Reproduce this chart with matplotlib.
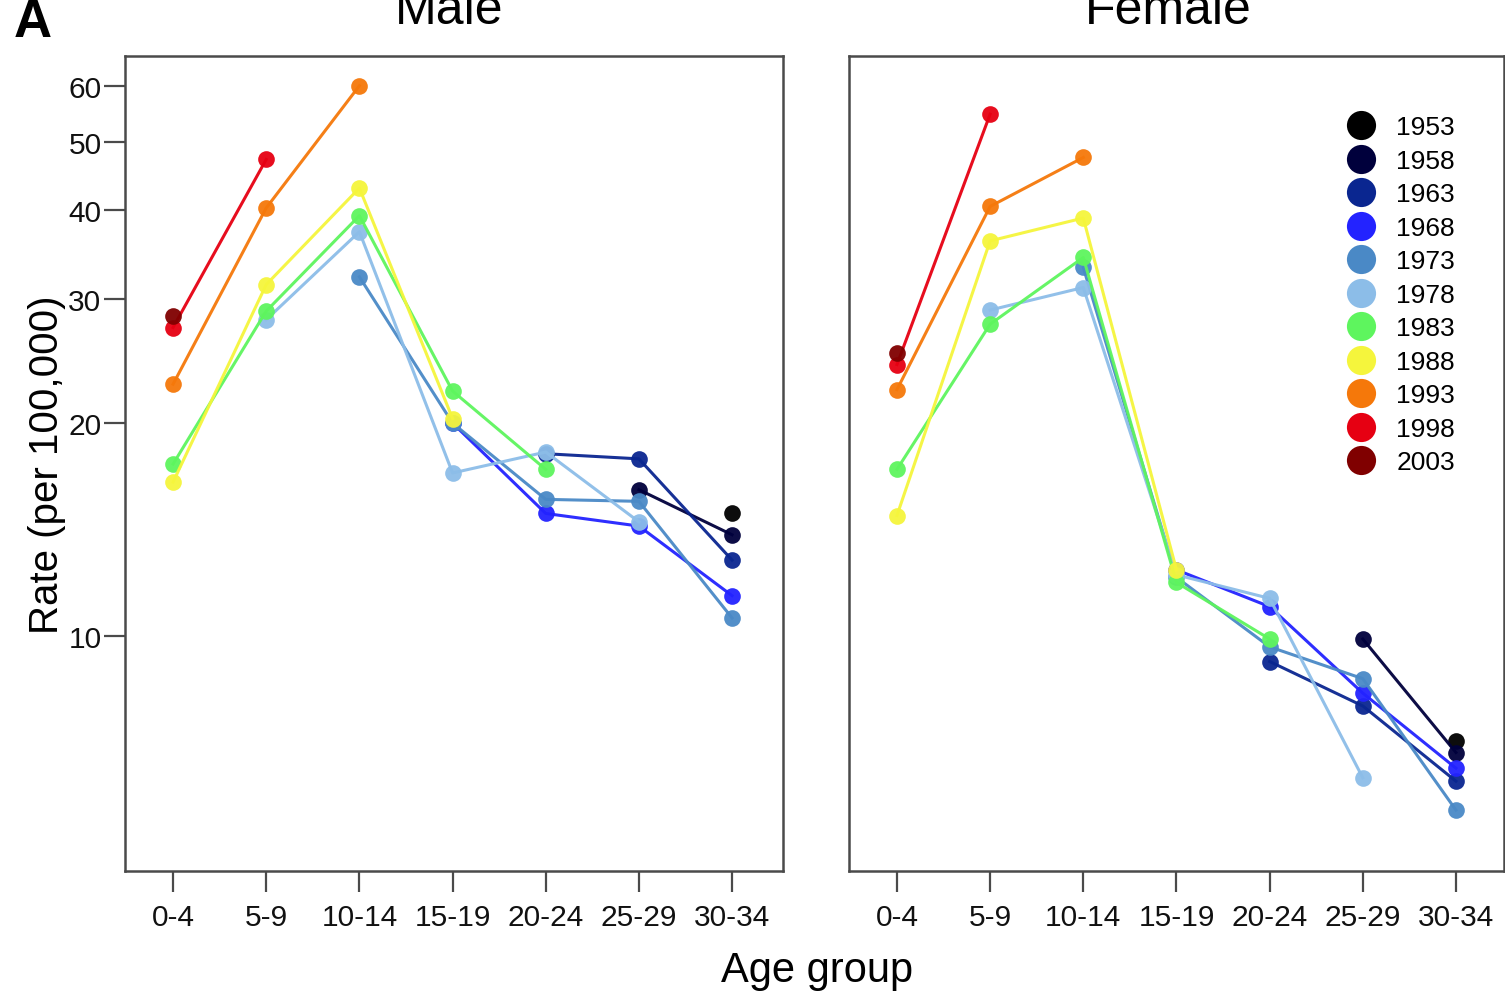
import numpy as np
import matplotlib
matplotlib.use("Agg")
import matplotlib.pyplot as plt
from matplotlib.lines import Line2D

plt.rcParams['font.family'] = ['Liberation Sans', 'DejaVu Sans']

nan = np.nan

age_groups = ["0-4", "5-9", "10-14", "15-19", "20-24", "25-29", "30-34"]
cohorts = ["1953", "1958", "1963", "1968", "1973", "1978",
           "1983", "1988", "1993", "1998", "2003"]
colors = ["#000000", "#00003c", "#0a2690", "#2323ff", "#4a89c6", "#8cbde8",
          "#5ef55e", "#f5f53c", "#f5780a", "#e60012", "#800000"]

# rate per 100,000 by birth cohort, one value per age group
male = [
    [nan, nan, nan, nan, nan, nan, 14.9],
    [nan, nan, nan, nan, nan, 16.1, 13.9],
    [nan, nan, nan, nan, 18.1, 17.8, 12.8],
    [nan, nan, nan, 20.0, 14.9, 14.3, 11.4],
    [nan, nan, 32.2, 20.0, 15.6, 15.5, 10.6],
    [nan, 28.0, 37.3, 17.0, 18.2, 14.5, nan],
    [17.5, 28.8, 39.3, 22.2, 17.2, nan, nan],
    [16.5, 31.4, 43.0, 20.3, nan, nan, nan],
    [22.7, 40.3, 60.0, nan, nan, nan, nan],
    [27.3, 47.2, nan, nan, nan, nan, nan],
    [28.3, nan, nan, nan, nan, nan, nan],
]

female = [
    [nan, nan, nan, nan, nan, nan, 7.1],
    [nan, nan, nan, nan, nan, 9.9, 6.84],
    [nan, nan, nan, nan, 9.2, 7.96, 6.23],
    [nan, nan, nan, 12.4, 11.0, 8.3, 6.5],
    [nan, nan, 33.2, 12.1, 9.65, 8.7, 5.67],
    [nan, 28.9, 31.1, 12.2, 11.3, 6.3, nan],
    [17.2, 27.6, 34.3, 11.9, 9.9, nan, nan],
    [14.8, 36.2, 39.0, 12.4, nan, nan, nan],
    [22.3, 40.5, 47.5, nan, nan, nan, nan],
    [24.2, 54.7, nan, nan, nan, nan, nan],
    [25.1, nan, nan, nan, nan, nan, nan],
]

y_ticks = [10, 20, 30, 40, 50, 60]

fig = plt.figure(figsize=(15.05, 9.95), dpi=100)
ax_m = fig.add_axes([0.0831, 0.1236, 0.4372, 0.8191])
ax_f = fig.add_axes([0.5641, 0.1236, 0.4352, 0.8191])

spine_col = "#4a4a4a"
x = np.arange(len(age_groups))

for ax, data in [(ax_m, male), (ax_f, female)]:
    for vals, col in zip(data, colors):
        v = np.array(vals, dtype=float)
        ok = ~np.isnan(v)
        ax.plot(x[ok], v[ok], color=col, lw=2.2, marker='o', ms=12,
                mec=col, mew=0, alpha=0.95)
    ax.set_yscale('log')
    ax.set_ylim(4.65, 66.1)
    ax.set_xticks(x)
    ax.set_xticklabels(age_groups, fontsize=21.5)
    ax.minorticks_off()
    for s in ax.spines.values():
        s.set_color(spine_col)
        s.set_linewidth(1.8)
    ax.tick_params(axis='x', length=15, width=1.6, color=spine_col,
                   pad=8, labelcolor="#111111")

ax_m.set_xlim(-0.515, 6.547)
ax_f.set_xlim(-0.515, 6.515)

ax_m.set_yticks(y_ticks)
ax_m.set_yticklabels([str(t) for t in y_ticks], fontsize=21.5)
ax_m.tick_params(axis='y', which='both', length=15, width=1.6,
                 color=spine_col, pad=2, labelcolor="#111111")
ax_m.set_ylabel("Rate (per 100,000)", fontsize=29, labelpad=2)

ax_f.set_yticks([])
ax_f.tick_params(axis='y', which='both', length=0)

fig.text(0.543, 0.013, "Age group", fontsize=30, ha='center', va='baseline')

# panel titles, cut off by the top edge as in the original
fig.text(0.2985, 0.976, "Male", fontsize=36, ha='center', va='baseline')
fig.text(0.776, 0.976, "Female", fontsize=36, ha='center', va='baseline')
fig.text(0.009, 0.963, "A", fontsize=38, fontweight='bold', ha='left',
         va='baseline')

handles = [Line2D([], [], ls='none', marker='o', ms=21, color=c, mew=0)
           for c in colors]
ax_f.legend(handles, cohorts, loc='upper left', frameon=False,
            bbox_to_anchor=(0.745, 0.94), fontsize=19,
            labelspacing=0.36, handlelength=1.0, handletextpad=0.85,
            borderaxespad=0)

fig.savefig("out.png", dpi=100)
